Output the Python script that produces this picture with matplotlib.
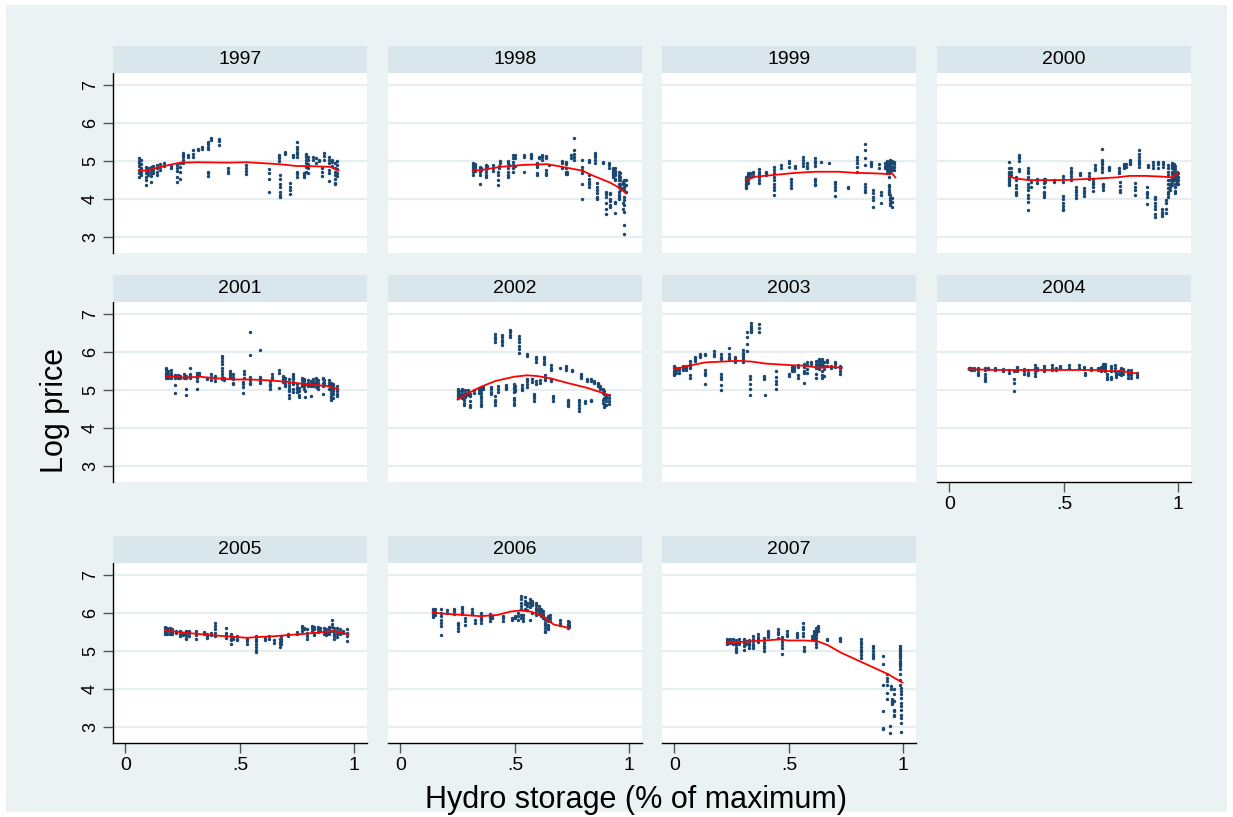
import numpy as np
import matplotlib
matplotlib.use("Agg")
import matplotlib.pyplot as plt
from matplotlib.patches import Rectangle

plt.rcParams['font.family'] = ['Liberation Sans', 'DejaVu Sans']

years = [1997, 1998, 1999, 2000, 2001, 2002, 2003, 2004, 2005, 2006, 2007]

# --- scatter data: storage level (x) and log prices observed at that level (y) ---
x_1997 = [0.06, 0.07, 0.09, 0.10, 0.11, 0.12, 0.14, 0.15, 0.17, 0.20, 0.225, 0.237, 0.251, 0.273,
          0.295, 0.317, 0.336, 0.359, 0.375, 0.407, 0.448, 0.528, 0.625, 0.669, 0.677, 0.698, 0.719,
          0.73, 0.751, 0.778, 0.788, 0.799, 0.821, 0.833, 0.847, 0.858, 0.868, 0.887, 0.901, 0.916, 0.926]
y_1997 = [[5.07, 5.01, 4.94, 4.87, 4.76, 4.68, 4.59], [5.03, 4.92, 4.81, 4.72, 4.63],
          [4.85, 4.76, 4.68, 4.57, 4.50, 4.37], [4.83, 4.72, 4.63], [4.85, 4.76, 4.68, 4.61, 4.44],
          [4.87, 4.76, 4.69], [4.89, 4.81, 4.72, 4.63], [4.92, 4.85, 4.76], [4.94, 4.87], [4.87, 4.81],
          [4.89, 4.81, 4.75, 4.57, 4.46], [4.94, 4.85, 4.72, 4.52], [5.22, 5.16, 5.10, 5.03, 4.96],
          [5.16, 5.10], [5.29, 5.20, 5.10], [5.33, 5.29], [5.38, 5.33],
          [5.51, 5.45, 5.38, 5.33, 4.72, 4.68, 4.61], [5.60, 5.55], [5.57, 5.53, 5.43],
          [4.81, 4.75, 4.68], [4.89, 4.81, 4.75, 4.66], [4.78, 4.69, 4.54, 4.19], [5.16, 5.11, 5.07, 5.01],
          [4.63, 4.52, 4.41, 4.31, 4.19, 4.11, 4.06], [5.25, 5.18], [4.43, 4.32, 4.24, 4.13], [5.16, 5.11],
          [5.51, 5.38, 5.31, 5.25, 5.20, 5.11, 4.72, 4.66, 4.59], [4.69, 4.63, 4.57],
          [5.20, 5.14, 5.10, 5.03, 4.96, 4.85, 4.72], [5.11, 5.03, 4.92, 4.81, 4.68], [5.10, 5.04],
          [5.07, 4.94], [5.04, 5.01], [4.81, 4.72, 4.61], [5.22, 5.13, 5.03],
          [5.10, 5.04, 4.96, 4.76, 4.68, 4.48], [5.04, 4.98, 4.87],
          [4.94, 4.81, 4.72, 4.63, 4.54, 4.43, 4.39], [5.01, 4.89, 4.78, 4.68, 4.61]]

x_1998 = [0.316, 0.327, 0.346, 0.35, 0.373, 0.379, 0.405, 0.426, 0.432, 0.434, 0.47, 0.473, 0.492,
          0.502, 0.539, 0.572, 0.597, 0.604, 0.619, 0.638, 0.648, 0.706, 0.723, 0.727, 0.745, 0.757,
          0.793, 0.825, 0.849, 0.859, 0.884, 0.90, 0.911, 0.914, 0.929, 0.939, 0.953, 0.96, 0.971,
          0.978, 0.983]
y_1998 = [[4.94, 4.89, 4.85, 4.78, 4.72, 4.63], [4.92, 4.87, 4.81, 4.75], [4.85, 4.78, 4.72, 4.63, 4.41],
          [4.83, 4.76], [4.89, 4.85, 4.78, 4.72, 4.63, 4.59], [4.88, 4.81], [4.89, 4.81, 4.75],
          [4.72, 4.63, 4.50, 4.37], [4.87, 4.81], [5.01, 4.96], [5.01, 4.94, 4.83, 4.72, 4.63, 4.57],
          [4.89], [5.16, 5.07, 4.98, 4.89, 4.81, 4.72], [5.16, 5.07, 4.87], [5.16, 5.11, 4.72],
          [5.20, 5.16, 5.11, 5.07], [4.96, 4.89, 4.85, 4.69, 4.63], [5.11, 5.07], [5.16, 5.10, 5.04],
          [5.13, 5.07, 4.76, 4.68, 4.63], [4.89], [5.00, 4.96, 4.81], [4.98, 4.92, 4.81, 4.72, 4.66],
          [4.72, 4.66], [5.16, 5.07], [5.60, 5.29, 5.20, 5.10, 5.03], [5.03, 4.85, 4.76, 4.68, 4.41, 3.99],
          [5.03, 4.98, 4.63, 4.54, 4.46, 4.39, 4.32], [5.22, 5.16, 5.10, 5.03, 4.96],
          [4.43, 4.32, 4.24, 4.15, 4.06, 3.99], [4.98, 4.96], [4.19, 4.13, 4.06, 3.89, 3.75, 3.62],
          [4.96, 4.89, 4.81], [4.17, 4.13, 3.99, 3.96, 3.84, 3.80], [4.81, 4.76, 4.72, 4.68, 4.63, 4.59],
          [4.81, 4.75, 4.69, 4.63, 4.54, 4.50, 3.93, 3.89, 3.64],
          [4.72, 4.63, 4.59, 4.50, 4.41, 4.32, 4.19, 4.11, 4.06, 3.99],
          [4.68, 4.59, 4.50, 4.41, 4.32, 4.25], [4.46, 4.41, 4.28, 3.89, 3.75],
          [4.50, 4.41, 4.32, 4.25, 4.06, 3.97, 3.84, 3.67, 3.32, 3.08], [4.50, 4.37, 4.19]]

x_1999 = [0.313, 0.322, 0.332, 0.344, 0.368, 0.402, 0.434, 0.466, 0.499, 0.509, 0.525, 0.562, 0.579,
          0.613, 0.64, 0.674, 0.70, 0.758, 0.798, 0.831, 0.86, 0.866, 0.895, 0.902, 0.918, 0.929, 0.936,
          0.943, 0.95, 0.958]
y_1999 = [[4.59, 4.54, 4.50, 4.46, 4.41, 4.37, 4.32, 4.28], [4.68, 4.63, 4.57, 4.50, 4.43],
          [4.69, 4.66, 4.59], [4.72, 4.68, 4.61], [4.78, 4.72, 4.66, 4.59, 4.50, 4.43], [4.72, 4.68, 4.63],
          [4.85, 4.76, 4.68, 4.59, 4.50, 4.41, 4.32, 4.24, 4.11], [4.89, 4.83], [5.01, 4.94, 4.85],
          [4.54, 4.46, 4.37, 4.28], [4.87, 4.83], [5.10, 5.03, 4.96, 4.87], [4.94, 4.87, 4.81],
          [5.07, 5.01, 4.94, 4.87, 4.54, 4.48, 4.41, 4.37], [4.98], [4.96], [4.46, 4.39, 4.32, 4.24, 4.08],
          [4.32, 4.28], [5.11, 5.03, 4.94, 4.85, 4.72], [5.46, 5.29, 5.07, 4.89, 4.41, 4.32, 4.24, 4.19],
          [4.98, 4.92, 4.87], [4.24, 4.15, 4.06, 3.97, 3.80], [4.92, 4.83], [4.19, 4.11, 3.90],
          [4.94, 4.87, 4.81], [5.01, 4.96, 4.89, 4.85, 4.81, 4.76, 4.69],
          [4.98, 4.94, 4.85, 4.76, 4.68, 4.59, 4.37, 4.32, 4.25, 4.19, 4.13],
          [5.03, 4.96, 4.89, 4.81, 4.72, 4.11, 4.04, 3.97, 3.90, 3.84],
          [5.01, 4.94, 4.85, 4.76, 4.02, 3.93, 3.80], [4.98, 4.92, 4.85, 4.76]]

x_2000 = [0.262, 0.269, 0.291, 0.306, 0.345, 0.357, 0.383, 0.415, 0.419, 0.456, 0.495, 0.531, 0.553,
          0.572, 0.59, 0.611, 0.626, 0.638, 0.665, 0.67, 0.699, 0.739, 0.745, 0.764, 0.772, 0.79, 0.812,
          0.83, 0.862, 0.866, 0.891, 0.898, 0.91, 0.927, 0.934, 0.946, 0.955, 0.964, 0.972, 0.98, 0.987,
          0.994, 1.0]
y_2000 = [[4.98, 4.81, 4.72, 4.68, 4.63, 4.59, 4.54, 4.50, 4.46, 4.41, 4.37], [4.81, 4.72, 4.63],
          [4.59, 4.50, 4.37, 4.28, 4.19, 4.15, 4.11], [5.16, 5.11, 5.07, 5.01, 4.78, 4.75],
          [4.83, 4.75, 4.68, 4.59, 4.52, 4.41, 4.32, 4.24, 4.11, 4.02, 3.93, 3.71], [4.46, 4.32],
          [4.54, 4.50, 4.43], [4.54, 4.50, 4.43, 4.32, 4.19, 4.15, 4.11, 4.06], [4.52, 4.46], [4.50, 4.46],
          [4.61, 4.54, 4.46, 4.08, 3.99, 3.90, 3.82, 3.75, 3.71], [4.81, 4.75, 4.68, 4.61, 4.54, 4.50],
          [4.32, 4.25, 4.19, 4.11, 4.04], [4.69, 4.63], [4.28, 4.22, 4.15, 4.08], [4.68, 4.61, 4.52],
          [4.54, 4.46, 4.39, 4.32, 4.22], [4.89, 4.83, 4.76], [5.33, 5.04, 4.98, 4.92, 4.85, 4.78, 4.72],
          [4.41, 4.37, 4.32, 4.25], [4.85, 4.81, 4.76], [4.81, 4.75, 4.68], [4.46, 4.34, 4.25, 4.19],
          [4.92, 4.87, 4.81], [4.92, 4.85], [5.04, 4.98, 4.92], [4.43, 4.32, 4.24, 4.11],
          [5.29, 5.18, 5.11, 5.04, 4.98, 4.92, 4.85], [4.32, 4.19, 4.13, 4.06, 3.87], [4.89, 4.85],
          [4.98, 4.89, 4.83], [4.06, 3.99, 3.90, 3.82, 3.75, 3.62, 3.54], [4.98, 4.92, 4.81],
          [3.75, 3.67, 3.61, 3.55], [4.98, 4.92, 4.85], [3.97, 3.89, 3.75, 3.64],
          [4.89, 4.81, 4.72, 4.63, 4.50, 4.39, 4.28, 4.19, 4.13, 4.06], [4.50, 4.41, 4.32, 4.24],
          [4.94, 4.89, 4.85, 4.81, 4.72, 4.66, 4.59, 4.52, 4.46, 4.37],
          [4.92, 4.87, 4.81, 4.76, 4.69, 4.63, 4.57, 4.50],
          [4.87, 4.78, 4.69, 4.59, 4.50, 4.41, 4.32, 4.22, 4.15], [4.72, 4.63, 4.54, 4.46, 4.41],
          [4.68, 4.57, 4.50, 4.39]]

x_2001 = [0.179, 0.185, 0.199, 0.218, 0.228, 0.237, 0.257, 0.266, 0.281, 0.313, 0.32, 0.356, 0.374,
          0.392, 0.422, 0.429, 0.458, 0.472, 0.513, 0.519, 0.545, 0.586, 0.632, 0.64, 0.672, 0.69, 0.698,
          0.715, 0.734, 0.749, 0.756, 0.77, 0.78, 0.785, 0.799, 0.81, 0.821, 0.833, 0.84, 0.862, 0.868,
          0.887, 0.897, 0.906, 0.923]
y_2001 = [[5.59, 5.52, 5.46, 5.42, 5.37, 5.33], [5.50, 5.43, 5.37, 5.31], [5.52, 5.46, 5.40, 5.33],
          [5.40, 5.35, 5.31, 5.13, 4.93], [5.40, 5.35, 5.31], [5.37, 5.31], [5.42, 5.35, 5.31],
          [5.37, 5.31, 5.02, 4.88], [5.59, 5.42, 5.37, 5.33], [5.46, 5.40, 5.33, 5.24, 5.04], [5.46, 5.40],
          [5.33, 5.28], [5.42, 5.35, 5.26], [5.37, 5.33, 5.24],
          [5.90, 5.84, 5.77, 5.68, 5.59, 5.50, 5.42, 5.35, 5.28], [5.31, 5.26],
          [5.50, 5.46, 5.40, 5.35, 5.31], [5.42, 5.35, 5.28, 5.19, 5.15], [5.22, 5.15, 5.08, 4.93],
          [5.50, 5.42, 5.33], [6.52, 5.93, 5.35, 5.26, 5.19, 5.15], [6.06, 5.35, 5.28, 5.24, 5.19],
          [5.24, 5.15, 5.11, 5.04], [5.42, 5.35, 5.28], [5.52, 5.46, 5.06], [5.37, 5.33, 5.28, 5.22],
          [5.33, 5.24, 5.17, 5.11], [5.28, 5.19, 5.11, 5.02, 4.97, 4.88, 4.80],
          [5.43, 5.37, 5.33, 5.28, 5.22, 5.15, 5.02, 4.96], [5.15, 5.08, 5.02, 4.96],
          [5.06, 4.97, 4.88, 4.81], [5.33, 5.26, 5.19, 5.15, 5.11], [5.28, 5.24, 5.17, 5.11, 5.04],
          [5.15, 4.97, 4.81], [5.26, 5.19, 5.15, 5.11], [5.24, 5.17, 5.11, 4.84], [5.28, 5.22, 5.15, 5.11],
          [5.33, 5.28, 5.22, 5.15, 5.08], [5.26, 5.19, 5.11, 5.04], [5.33, 5.28, 5.19, 5.11, 4.90],
          [5.26, 5.19, 5.13], [5.26, 5.19, 5.13, 5.02],
          [5.19, 5.15, 5.11, 5.04, 4.99, 4.93, 4.84, 4.78, 4.73], [5.17, 5.11, 5.04, 4.97, 4.90, 4.80],
          [5.11, 5.04, 4.97, 4.90, 4.84]]

x_2002 = [0.25, 0.258, 0.269, 0.277, 0.284, 0.294, 0.303, 0.323, 0.342, 0.354, 0.361, 0.397, 0.412,
          0.425, 0.444, 0.463, 0.48, 0.495, 0.502, 0.517, 0.531, 0.553, 0.575, 0.585, 0.594, 0.611, 0.626,
          0.633, 0.658, 0.665, 0.699, 0.723, 0.731, 0.75, 0.779, 0.79, 0.808, 0.817, 0.834, 0.847, 0.862,
          0.873, 0.885, 0.891, 0.90, 0.91]
y_2002 = [[5.02, 4.97, 4.93, 4.88, 4.84, 4.80], [4.97, 4.90, 4.84], [5.02, 4.97, 4.90, 4.84, 4.80],
          [4.75, 4.66, 4.60], [4.99, 4.93, 4.87, 4.81], [4.99, 4.93, 4.87], [4.90, 4.84, 4.71, 4.62, 4.55],
          [4.99, 4.93], [5.04, 4.99, 4.93], [5.06, 4.99, 4.93, 4.84, 4.80, 4.71, 4.64, 4.58], [5.08, 5.02],
          [5.08, 5.02, 4.96, 4.90], [6.48, 6.41, 6.35, 6.26, 4.84, 4.75, 4.69, 4.62], [5.11, 5.04, 4.96],
          [6.46, 6.39, 6.32, 6.26, 6.19], [5.13, 5.08, 5.02], [6.57, 6.52, 6.46, 6.41],
          [5.15, 5.08, 5.02, 4.96, 4.80, 4.73, 4.66, 4.62], [5.11, 5.04, 4.97],
          [6.43, 6.35, 6.26, 6.17, 6.08, 5.99], [5.13, 5.06, 4.99], [5.95, 5.90, 5.28, 5.24, 5.15, 5.08],
          [5.28, 5.22], [4.90, 4.84, 4.78, 4.71], [5.88, 5.81, 5.75, 5.24, 5.15], [5.26, 5.19],
          [5.88, 5.81, 5.75, 5.70], [5.40, 5.33, 5.26], [5.66, 5.59, 5.52, 5.28, 5.24], [4.84, 4.78, 4.71],
          [5.58], [5.64, 5.58, 5.52], [4.75, 4.71, 4.66, 4.62, 4.58], [5.52, 5.49],
          [4.75, 4.69, 4.62, 4.53, 4.44], [5.43, 5.37, 5.33], [4.71, 4.66], [5.28, 5.24],
          [5.28, 5.24, 4.75, 4.71], [5.24, 5.19], [5.19, 5.15, 5.11], [5.11, 5.06, 5.02],
          [5.04, 4.99, 4.93, 4.75, 4.66], [4.97, 4.90, 4.80, 4.64, 4.55], [4.84, 4.80, 4.71, 4.62],
          [4.87, 4.80, 4.71, 4.64]]

x_2003 = [0.0, 0.007, 0.019, 0.036, 0.051, 0.067, 0.089, 0.111, 0.132, 0.175, 0.205, 0.237, 0.266,
          0.298, 0.317, 0.329, 0.336, 0.371, 0.39, 0.394, 0.444, 0.499, 0.514, 0.521, 0.54, 0.565, 0.579,
          0.598, 0.62, 0.63, 0.645, 0.652, 0.667, 0.684, 0.70, 0.725]
y_2003 = [[5.64, 5.58, 5.50, 5.46, 5.40], [5.59, 5.52, 5.46], [5.59, 5.52, 5.46], [5.64, 5.58, 5.52],
          [5.64, 5.58, 5.52], [5.77, 5.68, 5.64, 5.58, 5.40, 5.31], [5.88, 5.81, 5.77], [5.95, 5.90, 5.86],
          [5.96, 5.93, 5.52, 5.46, 5.40, 5.17], [6.02, 5.96, 5.90],
          [5.95, 5.88, 5.81, 5.42, 5.35, 5.28, 5.13, 4.99], [6.11, 5.95, 5.88, 5.81], [5.88, 5.81, 5.75],
          [6.05, 5.99, 5.93, 5.86, 5.81, 5.75], [6.52, 6.39, 6.21, 6.02], [5.37, 5.28, 5.15, 5.04, 4.88],
          [6.76, 6.70, 6.64, 6.57, 6.52], [6.73, 6.64, 6.52], [5.37, 5.33, 5.28], [4.87],
          [5.50, 5.35, 5.24, 5.15, 5.04], [5.43, 5.37], [5.61, 5.55, 5.50], [5.61, 5.55, 5.50],
          [5.66, 5.61, 5.40, 5.31], [5.68, 5.61, 5.50, 5.46, 5.19], [5.73, 5.66, 5.55, 5.46], [5.75, 5.70],
          [5.77, 5.70, 5.64, 5.58, 5.43, 5.33], [5.81, 5.77, 5.73, 5.68, 5.64, 5.59, 5.55],
          [5.81, 5.77, 5.70, 5.64, 5.50, 5.40, 5.31], [5.73, 5.64, 5.55, 5.37], [5.79, 5.73, 5.64],
          [5.64, 5.59], [5.75, 5.68, 5.61], [5.64, 5.58, 5.50, 5.43]]

x_2004 = [0.084, 0.095, 0.109, 0.124, 0.157, 0.167, 0.201, 0.233, 0.262, 0.284, 0.294, 0.328, 0.342,
          0.376, 0.383, 0.412, 0.448, 0.466, 0.485, 0.521, 0.565, 0.587, 0.594, 0.619, 0.648, 0.662,
          0.669, 0.681, 0.688, 0.706, 0.721, 0.728, 0.739, 0.75, 0.76, 0.782, 0.793, 0.818]
y_2004 = [[5.59, 5.55], [5.58, 5.52], [5.58, 5.52], [5.59, 5.52, 5.46, 5.40],
          [5.58, 5.52, 5.42, 5.35, 5.28, 5.24], [5.59, 5.55], [5.59, 5.52], [5.55, 5.50], [5.52, 5.46],
          [5.50, 5.28, 5.19, 4.97], [5.61, 5.55, 5.49], [5.55, 5.49, 5.43], [5.52, 5.46, 5.40],
          [5.66, 5.59, 5.52, 5.46, 5.37], [5.59, 5.52], [5.64, 5.58, 5.50], [5.66, 5.59, 5.52],
          [5.58, 5.52], [5.64, 5.58], [5.66, 5.59], [5.66, 5.59], [5.61, 5.55], [5.46, 5.40], [5.59, 5.52],
          [5.59, 5.52], [5.61, 5.55, 5.49], [5.68, 5.64, 5.58, 5.52], [5.70, 5.64, 5.58, 5.50],
          [5.42, 5.35, 5.28], [5.64, 5.58, 5.50, 5.35, 5.28], [5.66, 5.59, 5.50], [5.46, 5.40, 5.35],
          [5.50, 5.43], [5.59, 5.52, 5.46, 5.40], [5.55, 5.50, 5.43], [5.52, 5.46, 5.40, 5.33],
          [5.52, 5.46, 5.40, 5.33], [5.46, 5.40, 5.35]]

x_2005 = [0.174, 0.181, 0.193, 0.203, 0.222, 0.24, 0.251, 0.266, 0.276, 0.308, 0.344, 0.356, 0.374,
          0.39, 0.44, 0.462, 0.468, 0.487, 0.531, 0.571, 0.608, 0.628, 0.647, 0.673, 0.68, 0.709, 0.751,
          0.77, 0.78, 0.795, 0.814, 0.824, 0.84, 0.85, 0.868, 0.876, 0.887, 0.904, 0.911, 0.926, 0.938,
          0.949, 0.967]
y_2005 = [[5.63, 5.60, 5.54, 5.48, 5.44], [5.61, 5.57, 5.53, 5.46], [5.60, 5.54, 5.48, 5.44],
          [5.57, 5.51, 5.46], [5.54, 5.48], [5.53, 5.46, 5.39], [5.48, 5.42], [5.54, 5.48, 5.42, 5.35, 5.31],
          [5.54, 5.48, 5.39], [5.54, 5.48, 5.42, 5.31], [5.51, 5.46], [5.46, 5.39, 5.35], [5.48, 5.42],
          [5.75, 5.66, 5.57, 5.48, 5.39], [5.60, 5.48, 5.42, 5.35], [5.46, 5.39, 5.33, 5.28, 5.18],
          [5.37, 5.31], [5.39, 5.33, 5.28], [5.33, 5.26, 5.19], [5.39, 5.33, 5.26, 5.19, 5.11, 5.04, 4.98],
          [5.35, 5.28], [5.39, 5.33], [5.28, 5.22], [5.31, 5.25, 5.18, 5.11], [5.39, 5.33, 5.26, 5.18],
          [5.46, 5.39], [5.51, 5.44], [5.66, 5.60, 5.54], [5.61, 5.57], [5.57, 5.48, 5.39, 5.33],
          [5.66, 5.60, 5.53], [5.63, 5.57, 5.48, 5.42], [5.63, 5.57, 5.51], [5.61, 5.54],
          [5.60, 5.53, 5.46], [5.57, 5.48, 5.42], [5.63, 5.57, 5.51, 5.44], [5.81, 5.72, 5.63, 5.54],
          [5.60, 5.53, 5.46, 5.39, 5.33], [5.60, 5.53, 5.44, 5.37], [5.57, 5.51, 5.44], [5.54, 5.48],
          [5.57, 5.48, 5.39, 5.26]]

x_2006 = [0.141, 0.15, 0.179, 0.204, 0.236, 0.25, 0.269, 0.281, 0.313, 0.325, 0.354, 0.393, 0.40,
          0.447, 0.488, 0.502, 0.514, 0.528, 0.535, 0.543, 0.553, 0.565, 0.575, 0.594, 0.604, 0.614,
          0.623, 0.633, 0.643, 0.652, 0.696, 0.731, 0.735]
y_2006 = [[6.12, 6.07, 6.01, 5.95, 5.89], [6.10, 6.04, 5.96], [6.10, 6.01, 5.92, 5.83, 5.75, 5.66, 5.42],
          [6.07, 6.01], [6.12, 6.05, 5.98], [5.75, 5.68, 5.61, 5.54], [6.16, 6.10, 6.04, 5.98],
          [5.88, 5.79, 5.68], [6.10, 6.04, 5.98], [5.81, 5.75], [6.01, 5.95, 5.88, 5.81, 5.75],
          [5.98, 5.92, 5.86, 5.79], [5.92, 5.86], [5.92, 5.86, 5.79], [5.88, 5.83], [5.92, 5.86],
          [6.01, 5.92, 5.83], [6.45, 6.36, 6.27, 6.18, 6.10, 5.96, 5.88], [5.96, 5.88, 5.79],
          [6.42, 6.32, 6.23, 6.12], [6.27, 6.18, 6.07], [6.36, 6.30, 6.23, 6.16, 5.83],
          [6.33, 6.27, 6.21, 6.01], [6.27, 6.21, 6.14, 6.07, 6.01, 5.95], [6.18, 6.12, 6.05, 5.98],
          [6.12, 6.05, 5.98, 5.92], [6.05, 5.98, 5.92, 5.86], [5.88, 5.81, 5.75, 5.68, 5.61, 5.54, 5.51],
          [5.92, 5.86, 5.79, 5.70, 5.63, 5.57], [5.96, 5.88, 5.79], [5.81, 5.75, 5.68],
          [5.79, 5.72, 5.66, 5.61], [5.77, 5.70, 5.63]]

x_2007 = [0.23, 0.241, 0.254, 0.269, 0.283, 0.302, 0.313, 0.324, 0.342, 0.366, 0.392, 0.407, 0.451,
          0.472, 0.491, 0.535, 0.56, 0.567, 0.599, 0.61, 0.618, 0.628, 0.666, 0.724, 0.814, 0.868, 0.91,
          0.93, 0.942, 0.948, 0.952, 0.959, 0.985, 0.988]
y_2007 = [[5.31, 5.26, 5.22, 5.18], [5.33, 5.28, 5.22], [5.31, 5.25, 5.18], [5.28, 5.22, 5.16, 5.09, 5.02, 4.98],
          [5.31, 5.25, 5.18], [5.33, 5.28, 5.22, 5.13, 5.04], [5.26, 5.19], [5.28, 5.22, 5.16, 5.09],
          [5.39, 5.33, 5.26, 5.19, 5.13, 5.09], [5.44, 5.37, 5.31, 5.25], [5.35, 5.28, 5.22, 5.13, 5.07, 5.00],
          [5.54, 5.48, 5.42, 5.37], [5.57, 5.51, 5.44, 5.35], [5.37, 5.31, 5.25, 5.16, 5.09, 4.93],
          [5.53, 5.46, 5.39], [5.48, 5.42, 5.37], [5.75, 5.63, 5.57, 5.48, 5.39], [5.11, 5.04, 5.00],
          [5.39, 5.33], [5.54, 5.48, 5.42, 5.35, 5.28], [5.61, 5.54, 5.48, 5.42, 5.35, 5.26, 5.18, 5.11],
          [5.66, 5.60, 5.53], [5.33, 5.28], [5.35, 5.31, 5.26], [5.31, 5.25, 5.18, 5.11, 5.04, 4.98, 4.89, 4.82],
          [5.13, 5.07, 5.00, 4.93, 4.87, 4.81], [4.87, 4.65, 4.11, 3.42, 2.98, 2.94],
          [4.39, 4.30, 4.21, 4.11, 3.90, 3.73], [3.03, 2.85], [4.08, 3.99], [3.73, 3.68, 3.64, 3.60],
          [3.99, 3.86, 3.68, 3.46, 3.42, 3.33, 3.29],
          [5.13, 5.09, 5.04, 5.00, 4.96, 4.91, 4.87, 4.82, 4.74, 4.69, 4.65, 4.61, 4.52, 4.39, 4.25, 4.12],
          [4.04, 3.95, 3.86, 3.77, 3.64, 3.55, 3.46, 3.33, 3.25, 3.11, 2.88]]

# --- lowess fit (red line) ---
fit_x_1997 = [0.06, 0.094, 0.153, 0.24, 0.32, 0.443, 0.53, 0.669, 0.749, 0.792, 0.894, 0.93]
fit_y_1997 = [4.75, 4.75, 4.85, 4.96, 4.97, 4.96, 4.97, 4.92, 4.87, 4.87, 4.85, 4.75]
fit_x_1998 = [0.316, 0.349, 0.437, 0.539, 0.64, 0.706, 0.793, 0.844, 0.917, 0.961, 0.985]
fit_y_1998 = [4.75, 4.76, 4.85, 4.90, 4.92, 4.85, 4.75, 4.61, 4.43, 4.28, 4.15]
fit_x_1999 = [0.313, 0.354, 0.427, 0.528, 0.616, 0.718, 0.79, 0.863, 0.936, 0.95, 0.965]
fit_y_1999 = [4.50, 4.59, 4.63, 4.69, 4.72, 4.72, 4.69, 4.68, 4.66, 4.68, 4.57]
fit_x_2000 = [0.262, 0.291, 0.349, 0.422, 0.495, 0.568, 0.64, 0.728, 0.786, 0.859, 0.932, 0.972, 0.987, 1.0]
fit_y_2000 = [4.59, 4.54, 4.50, 4.50, 4.50, 4.52, 4.54, 4.57, 4.61, 4.61, 4.59, 4.57, 4.63, 4.68]
fit_x_2001 = [0.179, 0.254, 0.327, 0.40, 0.472, 0.545, 0.618, 0.705, 0.792, 0.879, 0.908, 0.93]
fit_y_2001 = [5.37, 5.33, 5.35, 5.31, 5.28, 5.28, 5.26, 5.22, 5.15, 5.11, 5.06, 5.02]
fit_x_2002 = [0.25, 0.291, 0.349, 0.415, 0.495, 0.553, 0.597, 0.655, 0.728, 0.815, 0.911]
fit_y_2002 = [4.75, 4.90, 5.08, 5.24, 5.35, 5.39, 5.37, 5.31, 5.19, 5.06, 4.87]
fit_x_2003 = [0.0, 0.063, 0.135, 0.208, 0.281, 0.339, 0.397, 0.499, 0.572, 0.63, 0.688, 0.732]
fit_y_2003 = [5.55, 5.64, 5.73, 5.75, 5.77, 5.75, 5.70, 5.66, 5.64, 5.59, 5.61, 5.59]
fit_x_2004 = [0.084, 0.204, 0.349, 0.495, 0.64, 0.699, 0.757, 0.786, 0.822]
fit_y_2004 = [5.55, 5.53, 5.53, 5.53, 5.53, 5.50, 5.50, 5.46, 5.44]
fit_x_2005 = [0.174, 0.269, 0.371, 0.443, 0.531, 0.574, 0.647, 0.705, 0.792, 0.879, 0.908, 0.974]
fit_y_2005 = [5.54, 5.48, 5.42, 5.39, 5.35, 5.37, 5.39, 5.42, 5.46, 5.51, 5.53, 5.44]
fit_x_2006 = [0.141, 0.204, 0.277, 0.349, 0.422, 0.48, 0.524, 0.568, 0.611, 0.64, 0.67, 0.735]
fit_y_2006 = [6.01, 5.98, 5.95, 5.92, 5.95, 6.04, 6.07, 6.04, 5.96, 5.83, 5.70, 5.61]
fit_x_2007 = [0.23, 0.32, 0.392, 0.465, 0.494, 0.567, 0.625, 0.669, 0.727, 0.814, 0.93, 0.996]
fit_y_2007 = [5.22, 5.25, 5.28, 5.31, 5.28, 5.28, 5.26, 5.16, 4.96, 4.72, 4.40, 4.17]

scatter_x = dict(zip(years, [x_1997, x_1998, x_1999, x_2000, x_2001, x_2002,
                             x_2003, x_2004, x_2005, x_2006, x_2007]))
scatter_y = dict(zip(years, [y_1997, y_1998, y_1999, y_2000, y_2001, y_2002,
                             y_2003, y_2004, y_2005, y_2006, y_2007]))
fit_x = dict(zip(years, [fit_x_1997, fit_x_1998, fit_x_1999, fit_x_2000, fit_x_2001, fit_x_2002,
                         fit_x_2003, fit_x_2004, fit_x_2005, fit_x_2006, fit_x_2007]))
fit_y = dict(zip(years, [fit_y_1997, fit_y_1998, fit_y_1999, fit_y_2000, fit_y_2001, fit_y_2002,
                         fit_y_2003, fit_y_2004, fit_y_2005, fit_y_2006, fit_y_2007]))

y_ticks = [3, 4, 5, 6, 7]
x_ticks = [0, 0.5, 1]
x_tick_labels = ['0', '.5', '1']

# Stata s2color look
BG = '#EAF2F3'
STRIP = '#D9E6EB'
GRID = '#E6EEF0'
NAVY = '#1A476F'

W, H = 1233, 817
fig = plt.figure(figsize=(W / 100, H / 100), dpi=100, facecolor='white')
fig.patches.append(Rectangle((6 / W, 5 / H), (W - 12) / W, (H - 10) / H, transform=fig.transFigure,
                             facecolor=BG, edgecolor='none', zorder=-10))

col_left = [113, 388, 662, 937]
row_top = [73, 302, 563]
pw, ph, hh = 254, 180, 27

for i, yr in enumerate(years):
    r, c = divmod(i, 4)
    l, t = col_left[c], row_top[r]
    ax = fig.add_axes([l / W, 1 - (t + ph) / H, pw / W, ph / H])
    hax = fig.add_axes([l / W, 1 - t / H, pw / W, hh / H])
    hax.set_facecolor(STRIP)
    hax.set_xticks([])
    hax.set_yticks([])
    for s in hax.spines.values():
        s.set_visible(False)
    hax.text(0.5, 0.5, str(yr), ha='center', va='center', fontsize=14, transform=hax.transAxes)

    xs = np.concatenate([np.full(len(v), x) for x, v in zip(scatter_x[yr], scatter_y[yr])])
    ys = np.concatenate([np.array(v) for v in scatter_y[yr]])
    ax.scatter(xs, ys, s=6, color=NAVY, linewidths=0, zorder=3)
    ax.plot(fit_x[yr], fit_y[yr], color='red', lw=1.3, zorder=4)

    ax.set_xlim(-0.054, 1.055)
    ax.set_ylim(2.58, 7.32)
    ax.set_yticks(y_ticks)
    ax.set_xticks(x_ticks)
    ax.yaxis.grid(True, color=GRID, lw=1.6)
    ax.set_axisbelow(True)
    ax.set_facecolor('white')

    has_y = c == 0
    has_x = r == 2 or yr == 2004
    ax.spines['top'].set_visible(False)
    ax.spines['right'].set_visible(False)
    ax.spines['left'].set_visible(has_y)
    ax.spines['bottom'].set_visible(has_x)
    for s in ('left', 'bottom'):
        ax.spines[s].set_color('black')
        ax.spines[s].set_linewidth(1.0)

    if has_y:
        ax.set_yticklabels([str(v) for v in y_ticks], rotation=90, va='center')
        ax.tick_params(axis='y', direction='out', length=7, width=1, color='#555555',
                       labelsize=13, pad=3)
    else:
        ax.tick_params(axis='y', length=0, labelleft=False)
    if has_x:
        ax.set_xticklabels(x_tick_labels)
        ax.tick_params(axis='x', direction='out', length=7, width=1, color='#555555',
                       labelsize=14, pad=3)
    else:
        ax.tick_params(axis='x', length=0, labelbottom=False)

fig.text(55 / W, 1 - 410 / H, 'Log price', rotation=90, ha='center', va='center', fontsize=22)
fig.text(636 / W, 1 - 800 / H, 'Hydro storage (% of maximum)', ha='center', va='center', fontsize=22)

fig.savefig('out.png', dpi=100, facecolor=fig.get_facecolor())
